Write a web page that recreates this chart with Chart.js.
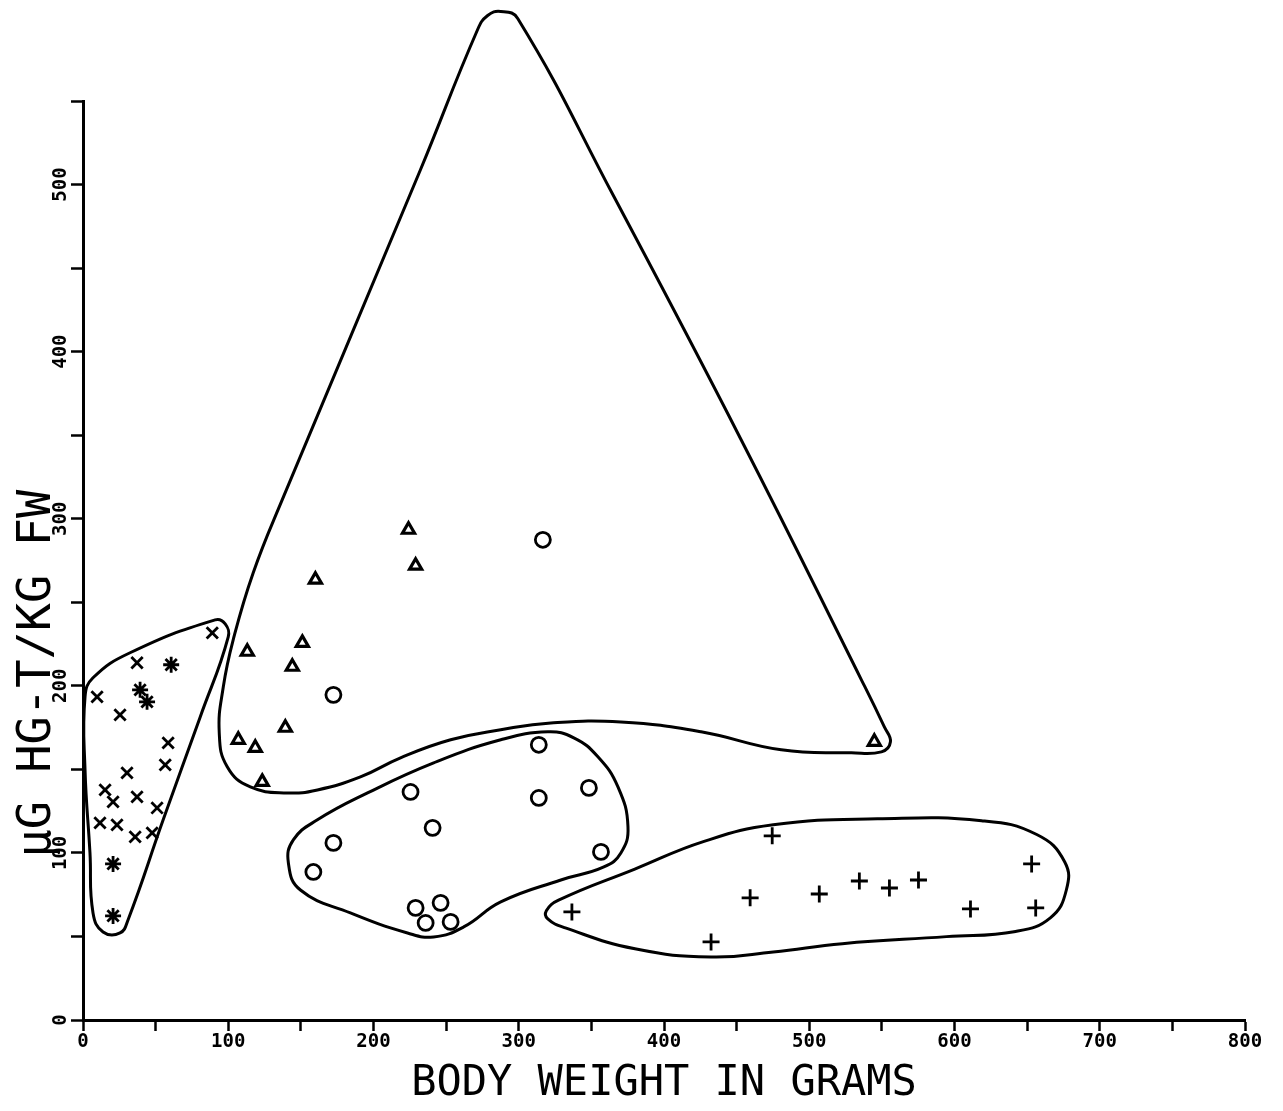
<!DOCTYPE html>
<html><head><meta charset="utf-8">
<script src="https://cdn.jsdelivr.net/npm/chart.js@4/dist/chart.umd.min.js"></script>
<style>html,body{margin:0;padding:0;background:#fff;}</style>
</head><body>
<canvas id="c" width="1283" height="1111"></canvas>
<script>
// ---- text ----
const xTickLabels = ['0','100','200','300','400','500','600','700','800'];
const yTickLabels = ['0','100','200','300','400','500'];
const xTitle = 'BODY WEIGHT IN GRAMS';
const yTitle = 'μG HG-T/KG FW';

// ---- series: body weight (g) vs µg Hg-T / kg FW ----
const crossX = [9.7, 37.2, 89.0, 25.5, 58.6, 56.6, 30.3, 15.2, 37.2, 51.0, 11.7, 23.4, 35.9, 47.6, 20.7];
const crossY = [193.4, 213.8, 231.7, 182.6, 165.9, 152.7, 147.9, 137.7, 133.5, 126.9, 118.0, 116.8, 109.6, 112.0, 130.5];

const starX = [60.7, 39.3, 44.1, 20.7, 20.7];
const starY = [212.6, 197.6, 190.4, 93.4, 62.3];

const triX = [288.3, 224.1, 229.0, 160.0, 151.0, 144.1, 113.1, 139.3, 106.9, 118.6, 123.4, 544.8];
const triY = [594.6, 293.4, 271.9, 263.5, 225.7, 211.4, 220.4, 174.9, 167.7, 162.9, 142.5, 166.5];

const circX = [316.6, 172.4, 313.8, 225.5, 313.8, 348.3, 240.7, 172.4, 158.6, 356.6, 229.0, 246.2, 235.9, 253.1];
const circY = [287.4, 194.6, 164.7, 136.5, 132.9, 138.9, 115.0, 106.0, 88.6, 100.6, 67.1, 70.1, 58.1, 58.7];

const plusX = [474.5, 336.6, 432.4, 459.3, 506.9, 534.5, 555.2, 575.2, 611.0, 653.1, 655.9];
const plusY = [110.2, 64.7, 46.7, 73.1, 75.4, 83.2, 79.0, 83.8, 66.5, 93.4, 67.1];

// ---- hand-drawn group enclosures (data units, closed loops) ----
const hullCrossX = [91.0, 97.9, 100.0, 80.7, 55.2, 31.0, 25.5, 13.8, 6.9, 4.8, 1.4, 1.4, 6.9, 32.4];
const hullCrossY = [239.5, 237.1, 229.3, 181.4, 119.8, 59.9, 52.1, 52.7, 64.1, 100.0, 149.7, 193.4, 204.8, 219.8];

const hullTriX = [287.6, 299.3, 365.5, 453.1, 535.9, 551.7, 555.9, 549.7, 529.0, 480.7, 425.5, 370.3, 322.1, 287.6, 253.1, 218.6, 191.0, 161.4, 140.7, 115.2, 99.3, 93.8, 96.6, 103.4, 117.2, 137.2, 232.4, 271.7, 278.6];
const hullTriY = [603.6, 599.4, 492.8, 347.3, 203.6, 175.4, 166.5, 160.5, 159.9, 161.7, 172.5, 178.4, 177.8, 173.7, 167.7, 156.9, 145.5, 137.7, 135.9, 139.5, 151.5, 171.9, 199.4, 227.5, 267.7, 311.4, 509.0, 592.8, 601.2];

const hullCircX = [320.0, 337.9, 354.5, 368.3, 375.2, 370.3, 358.6, 329.0, 287.6, 262.1, 241.4, 223.4, 184.1, 149.7, 141.4, 144.8, 161.4, 195.9, 241.4, 287.6];
const hullCircY = [172.5, 168.9, 157.5, 139.5, 115.6, 100.0, 91.6, 83.8, 70.7, 55.7, 49.7, 52.1, 64.1, 77.8, 94.0, 107.8, 119.8, 135.9, 153.9, 167.7];

const hullPlusX = [319.0, 327.4, 379.9, 427.6, 475.2, 546.9, 618.6, 656.6, 675.9, 677.0, 666.2, 642.1, 594.5, 522.8, 475.2, 432.4, 380.0, 332.1, 320.0];
const hullPlusY = [65.4, 71.7, 90.3, 106.9, 116.8, 120.4, 119.3, 111.0, 94.6, 77.8, 61.3, 53.0, 49.9, 45.7, 40.7, 37.7, 42.6, 55.1, 60.5];

// ---- build ----
const pts = (xs, ys) => xs.map((x, i) => ({x, y: ys[i]}));
function loop(xs, ys) {
  const p = pts(xs, ys), n = p.length;
  return {
    type: 'scatter', data: [p[n - 1], ...p, p[0], p[1]],
    showLine: true, borderColor: '#000', borderWidth: 3, pointRadius: 0, pointHoverRadius: 0,
    tension: 0.45, clip: false, fill: false,
    segment: { borderColor: c => (c.p0DataIndex === 0 || c.p0DataIndex === n + 1) ? 'rgba(0,0,0,0)' : '#000' }
  };
}
function markers(xs, ys, style, r, bw) {
  return { type: 'scatter', data: pts(xs, ys), pointStyle: style, pointRadius: r, pointHoverRadius: r,
    borderColor: '#000', backgroundColor: 'rgba(0,0,0,0)', pointBorderWidth: bw, borderWidth: bw, clip: false };
}

const monoFont = "'DejaVu Sans Mono', 'Liberation Mono', monospace";

new Chart(document.getElementById('c'), {
  type: 'scatter',
  data: { datasets: [
    loop(hullCrossX, hullCrossY),
    loop(hullTriX, hullTriY),
    loop(hullCircX, hullCircY),
    loop(hullPlusX, hullPlusY),
    markers(crossX, crossY, 'crossRot', 8, 2.8),
    markers(starX, starY, 'star', 8, 2.8),
    markers(triX, triY, 'triangle', 7, 3.2),
    markers(circX, circY, 'circle', 7.5, 2.8),
    markers(plusX, plusY, 'cross', 8.5, 2.8)
  ]},
  options: {
    responsive: false, animation: false,
    elements: { line: { capBezierPoints: false } },
    layout: { padding: { top: 101, right: 38, left: 0, bottom: 0 } },
    plugins: { legend: { display: false }, tooltip: { enabled: false } },
    scales: {
      x: {
        type: 'linear', min: 0, max: 800,
        afterFit: s => { s.height = 91; },
        border: { display: true, color: '#000', width: 3 },
        grid: { drawOnChartArea: false, drawTicks: true, tickLength: 11, tickWidth: 2.5, tickColor: '#000' },
        ticks: { stepSize: 50, autoSkip: false, maxRotation: 0, padding: 0, color: '#000',
          font: { family: monoFont, size: 19, weight: 'bold' },
          callback: v => (v % 100 === 0 ? xTickLabels[v / 100] : '') },
        title: { display: true, text: xTitle, color: '#000', font: { family: monoFont, size: 42 },
          padding: { top: 0, bottom: 2 } }
      },
      y: {
        type: 'linear', min: 0, max: 550,
        afterFit: s => { s.width = 83; },
        border: { display: true, color: '#000', width: 3 },
        grid: { drawOnChartArea: false, drawTicks: true, tickLength: 12, tickWidth: 2.5, tickColor: '#000' },
        ticks: { stepSize: 50, autoSkip: false, minRotation: 90, maxRotation: 90, crossAlign: 'center',
          padding: -7, color: '#000', font: { family: monoFont, size: 19, weight: 'bold' },
          callback: v => (v % 100 === 0 && v / 100 < yTickLabels.length ? yTickLabels[v / 100] : '') },
        title: { display: true, text: yTitle + '        ', color: '#000', font: { family: monoFont, size: 47 },
          padding: { top: 10, bottom: 0 } }
      }
    }
  }
});
</script>
</body></html>
